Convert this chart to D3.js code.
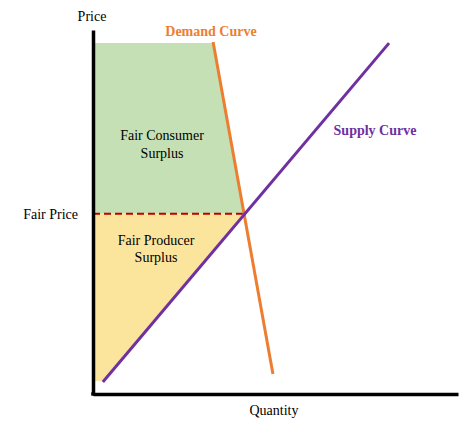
<!DOCTYPE html>
<html><head><meta charset="utf-8">
<script src="https://cdn.jsdelivr.net/npm/d3@7"></script>
<style>body{margin:0;background:#fff}svg{display:block}text{font-family:"Liberation Serif","Times New Roman",serif}</style>
</head><body><svg id="c" width="474" height="428"></svg>
<script>
// data (quantity 0-100, price 0-100)
const demandCurve = [[32.9, 96.7], [49.3, 5.5]];
const supplyCurve = [[2.7, 3.3], [81.1, 96.4]];
const fairPrice = 49.5;
const fairQuantity = 41.4;
const consumerSurplus = [[0, 96.4], [32.9, 96.4], [41.4, 49.5], [0, 49.5]];
const producerSurplus = [[0, 49.5], [41.4, 49.5], [2.9, 3.6], [0, 3.6]];
const axisLabels = {x: "Quantity", y: "Price", fair: "Fair Price"};

const svg = d3.select("#c");
const x = d3.scaleLinear().domain([0, 100]).range([93, 458]);
const y = d3.scaleLinear().domain([0, 100]).range([394, 30]);
const line = d3.line().x(d => x(d[0])).y(d => y(d[1]));

svg.append("path").attr("d", line(consumerSurplus) + "Z").attr("fill", "#c5e0b4");
svg.append("path").attr("d", line(producerSurplus) + "Z").attr("fill", "#fbe59d");

svg.append("line").attr("x1", x(0)).attr("x2", x(fairQuantity))
  .attr("y1", y(fairPrice)).attr("y2", y(fairPrice))
  .attr("stroke", "#c00000").attr("stroke-width", 2).attr("stroke-dasharray", "7,4");

svg.append("path").attr("d", line(demandCurve)).attr("stroke", "#ed7d31").attr("stroke-width", 3).attr("fill", "none");
svg.append("path").attr("d", line(supplyCurve)).attr("stroke", "#7030a0").attr("stroke-width", 3).attr("fill", "none");

const gx = svg.append("g").attr("transform", `translate(0,${y(0)})`).call(d3.axisBottom(x).ticks(0).tickSizeOuter(0));
const gy = svg.append("g").attr("transform", `translate(${x(0)},0)`).call(d3.axisLeft(y).ticks(0).tickSizeOuter(0));
svg.selectAll(".domain").attr("stroke", "#000").attr("stroke-width", 3.5);
svg.append("rect").attr("x", x(0) - 1.75).attr("y", y(0) - 1.75).attr("width", 3.5).attr("height", 3.5).attr("fill", "#000");

const txt = (t, px, py, opts = {}) => svg.append("text").attr("x", px).attr("y", py)
  .attr("text-anchor", opts.anchor || "middle").attr("font-size", opts.size || 14)
  .attr("font-weight", opts.bold ? "bold" : "normal").attr("fill", opts.color || "#000").text(t);

txt(axisLabels.y, 92, 21);
txt(axisLabels.x, 274, 415);
txt(axisLabels.fair, 78, 219, {anchor: "end"});
txt("Demand Curve", 211, 36, {bold: true, color: "#ed7d31"});
txt("Supply Curve", 375, 135, {bold: true, color: "#7030a0"});
txt("Fair Consumer", 162, 140);
txt("Surplus", 162, 158);
txt("Fair Producer", 156, 245);
txt("Surplus", 156, 262);
</script></body></html>
